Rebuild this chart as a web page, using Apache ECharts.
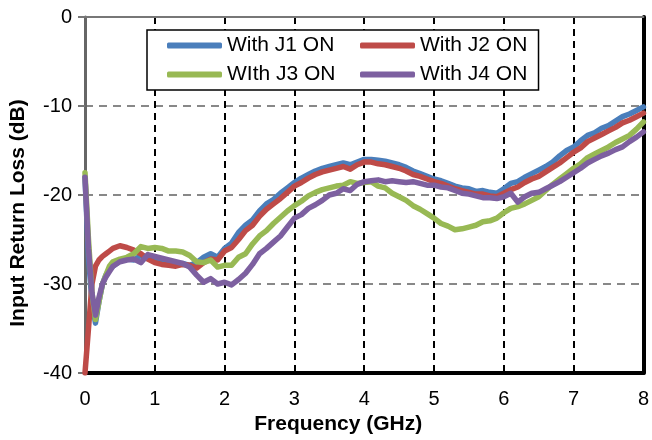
<!DOCTYPE html>
<html>
<head>
<meta charset="utf-8">
<script src="https://cdn.jsdelivr.net/npm/echarts@6/dist/echarts.min.js"></script>
<style>html,body{margin:0;padding:0;background:#fff}#c{width:652px;height:440px}</style>
</head>
<body>
<div id="c"></div>
<script>
var freq = [0,0.05,0.1,0.15,0.2,0.25,0.3,0.35,0.4,0.5,0.6,0.7,0.8,0.9,1.0,1.1,1.2,1.3,1.4,1.5,1.6,1.7,1.8,1.9,2.0,2.1,2.2,2.3,2.4,2.5,2.6,2.7,2.8,2.9,3.0,3.1,3.2,3.3,3.4,3.5,3.6,3.7,3.8,3.9,4.0,4.1,4.2,4.3,4.4,4.5,4.6,4.7,4.8,4.9,5.0,5.1,5.2,5.3,5.4,5.5,5.6,5.7,5.8,5.9,6.0,6.1,6.2,6.3,6.4,6.5,6.6,6.7,6.8,6.9,7.0,7.1,7.2,7.3,7.4,7.5,7.6,7.7,7.8,7.9,8.0];
var j1 = [-18,-27,-32,-34.4,-32,-30,-29,-28.3,-28,-27.4,-27.2,-27.3,-26.8,-27,-27.2,-27.4,-27.6,-27.7,-27.7,-27.9,-27.6,-27,-26.6,-27,-26,-25.4,-24.2,-23.4,-22.8,-21.8,-21,-20.5,-19.8,-19.2,-18.6,-18.1,-17.7,-17.3,-17.0,-16.8,-16.6,-16.4,-16.6,-16.3,-16.0,-16.0,-16.1,-16.2,-16.4,-16.6,-16.9,-17.3,-17.6,-17.9,-18.2,-18.4,-18.7,-19.0,-19.2,-19.3,-19.6,-19.5,-19.7,-19.8,-19.3,-18.7,-18.5,-18,-17.6,-17.2,-16.8,-16.3,-15.6,-15,-14.6,-13.9,-13.3,-13.0,-12.5,-12.2,-11.7,-11.2,-10.9,-10.5,-10.1];
var j2 = [-40,-35,-30,-28,-27.3,-26.9,-26.6,-26.3,-26,-25.7,-25.9,-26.2,-26.6,-27.2,-27.6,-27.8,-27.9,-28,-27.8,-27.9,-28.2,-27.6,-27.2,-27.3,-26.3,-25.9,-25,-24,-23.4,-22.4,-21.6,-21.0,-20.4,-19.7,-19.0,-18.6,-18.1,-17.7,-17.4,-17.2,-17.0,-16.8,-17.1,-16.6,-16.3,-16.3,-16.5,-16.6,-16.8,-17.0,-17.3,-17.7,-17.9,-18.2,-18.5,-18.7,-19.0,-19.3,-19.5,-19.7,-19.9,-19.9,-20.1,-20.2,-19.8,-19.4,-19.1,-18.6,-18.2,-17.9,-17.4,-16.9,-16.4,-15.8,-15.2,-14.7,-14.0,-13.6,-13.2,-12.8,-12.4,-11.9,-11.6,-11.2,-10.8];
var j3 = [-17.5,-25,-31,-34,-32,-30,-29,-28,-27.5,-27.2,-27,-26.6,-25.8,-26.0,-25.9,-26.0,-26.3,-26.3,-26.4,-26.8,-27.5,-27.6,-27.3,-28.1,-27.9,-27.9,-27.0,-26.6,-25.5,-24.6,-24.0,-23.2,-22.5,-21.8,-21.2,-20.7,-20.1,-19.7,-19.4,-19.2,-19.0,-18.9,-18.5,-18.7,-18.6,-18.5,-19.0,-19.2,-19.8,-20.2,-20.6,-21.2,-21.6,-22.1,-22.6,-23.2,-23.5,-23.9,-23.8,-23.6,-23.4,-23.0,-22.9,-22.6,-22.0,-21.5,-21.3,-21.0,-20.6,-20.2,-19.5,-18.8,-18.2,-17.6,-17.0,-16.5,-15.8,-15.4,-15.0,-14.6,-14.1,-13.7,-13.3,-12.6,-11.8];
var j4 = [-18,-26,-31,-33.5,-31.5,-30,-29.2,-28.6,-28,-27.5,-27.3,-27.2,-27.6,-26.7,-26.9,-27.1,-27.3,-27.5,-27.7,-28.1,-29.0,-29.8,-29.4,-30.0,-29.8,-30.1,-29.5,-28.8,-27.8,-26.6,-26.0,-25.3,-24.6,-23.6,-22.6,-22.2,-21.5,-21.1,-20.6,-20.0,-19.8,-19.3,-19.5,-18.8,-18.5,-18.4,-18.3,-18.5,-18.4,-18.5,-18.6,-18.5,-18.7,-18.9,-18.9,-19.1,-19.2,-19.5,-19.8,-19.9,-20.1,-20.3,-20.3,-20.4,-20.2,-19.8,-20.8,-20.2,-19.8,-19.7,-19.3,-18.9,-18.5,-18.0,-17.5,-17.0,-16.4,-16.0,-15.6,-15.3,-14.9,-14.6,-14.0,-13.5,-12.9];
var seriesNames = ['With J1 ON','With J2 ON','WIth J3 ON','With J4 ON'];
var seriesColors = ['#4A7EBB','#BE4B48','#98B954','#7D60A0'];
var xTicks = [0,1,2,3,4,5,6,7,8];
var yTicks = [-40,-30,-20,-10,0];

var all = [j1,j2,j3,j4];
function pairs(arr){ return freq.map(function(f,i){ return [f, arr[i]]; }); }
var FONT = 'Liberation Sans, Arial, sans-serif';

var chart = echarts.init(document.getElementById('c'), null, {renderer:'canvas'});
var series = all.map(function(arr, i){
  return {
    name: seriesNames[i], type: 'line', data: pairs(arr), showSymbol: false, symbol: 'none',
    smooth: false, lineStyle: {color: seriesColors[i], width: 5.5, cap: 'round', join: 'round'},
    itemStyle: {color: seriesColors[i]}, xAxisIndex: 0, yAxisIndex: 0, z: 3 + i
  };
});
chart.setOption({
  animation: false,
  backgroundColor: '#fff',
  grid: {left: 84, right: 6, top: 17, bottom: 67, containLabel: false},
  legend: [{
    data: [seriesNames[0], seriesNames[2]],
    orient: 'vertical', left: 147, top: 30,
    padding: [5, 203, 5, 20], itemGap: 8, itemWidth: 55, itemHeight: 6,
    icon: 'roundRect', borderColor: '#000', borderWidth: 1.5, backgroundColor: '#fff',
    textStyle: {fontFamily: FONT, fontSize: 21, color: '#000'}, z: 10
  },{
    data: [seriesNames[1], seriesNames[3]],
    orient: 'vertical', left: 360, top: 35,
    padding: 0, itemGap: 8, itemWidth: 55, itemHeight: 6,
    icon: 'roundRect',
    textStyle: {fontFamily: FONT, fontSize: 21, color: '#000'}, z: 11
  }],
  xAxis: [{
    type: 'value', min: xTicks[0], max: xTicks[xTicks.length-1], interval: 1, position: 'bottom',
    name: 'Frequency (GHz)', nameLocation: 'middle', nameGap: 38,
    nameTextStyle: {fontFamily: FONT, fontSize: 21, fontWeight: 'bold', color: '#000', padding: [0, 52, 0, 0]},
    axisLine: {show: true, onZero: false, lineStyle: {color: '#000', width: 4}},
    axisTick: {show: false},
    axisLabel: {fontFamily: FONT, fontSize: 20, color: '#000', margin: 16},
    splitLine: {show: true, showMinLine: false, showMaxLine: false, lineStyle: {color: '#000', width: 2, type: [7, 5]}}
  },{
    type: 'value', min: xTicks[0], max: xTicks[xTicks.length-1], interval: 1, position: 'top',
    axisLine: {show: true, onZero: false, lineStyle: {color: '#777', width: 2}},
    axisTick: {show: false}, axisLabel: {show: false}, splitLine: {show: false}
  }],
  yAxis: [{
    type: 'value', min: yTicks[0], max: yTicks[yTicks.length-1], interval: 10, position: 'left',
    name: 'Input Return Loss (dB)', nameLocation: 'middle', nameGap: 56, nameRotate: 90,
    nameTextStyle: {fontFamily: FONT, fontSize: 21, fontWeight: 'bold', color: '#000', padding: [0, 36, 0, 0]},
    axisLine: {show: true, onZero: false, lineStyle: {color: '#666', width: 3}},
    axisTick: {show: true, inside: false, length: 7, lineStyle: {color: '#777', width: 2}},
    axisLabel: {fontFamily: FONT, fontSize: 20, color: '#000', margin: 13},
    splitLine: {show: true, showMinLine: false, showMaxLine: false, lineStyle: {color: '#888', width: 2, type: [8, 6]}}
  },{
    type: 'value', min: yTicks[0], max: yTicks[yTicks.length-1], interval: 10, position: 'right',
    axisLine: {show: true, onZero: false, lineStyle: {color: '#000', width: 4}},
    axisTick: {show: false}, axisLabel: {show: false}, splitLine: {show: false}
  }],
  series: series
});
</script>
</body>
</html>
